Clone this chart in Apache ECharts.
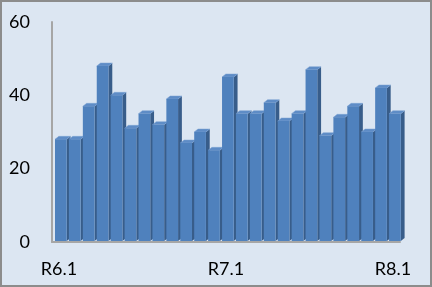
<!DOCTYPE html>
<html><head><meta charset="utf-8">
<script src="https://cdn.jsdelivr.net/npm/echarts@6/dist/echarts.min.js"></script>
<style>html,body{margin:0;padding:0;background:#dce6f2;}
#c{width:432px;height:287px;box-sizing:border-box;border:2px solid #8c8c8c;}</style>
</head><body><div id="c"></div>
<script>
const categories = ["R6.1","R6.2","R6.3","R6.4","R6.5","R6.6","R6.7","R6.8","R6.9","R6.10","R6.11","R6.12",
  "R7.1","R7.2","R7.3","R7.4","R7.5","R7.6","R7.7","R7.8","R7.9","R7.10","R7.11","R7.12","R8.1"];
const values = [28,28,37,48,40,31,35,32,39,27,30,25,45,35,35,38,33,35,47,29,34,37,30,42,35];
const yTicks = [0,20,40,60];

const chart = echarts.init(document.getElementById('c'));
const data = values.map((v,i)=>[i,v]);
chart.setOption({
  backgroundColor:'#dce6f2',
  animation:false,
  grid:{left:50,right:30,top:20,bottom:43},
  xAxis:{type:'category',data:categories,boundaryGap:true,
    axisTick:{show:false},
    axisLine:{show:true,lineStyle:{color:'#a6a6a6',width:2}},
    axisLabel:{interval:11,margin:18,fontFamily:'Lato',fontSize:18,color:'#000'}},
  yAxis:{type:'value',min:yTicks[0],max:yTicks[yTicks.length-1],interval:20,
    splitLine:{show:false},axisTick:{show:false},
    axisLine:{show:true,lineStyle:{color:'#a6a6a6',width:2}},
    axisLabel:{margin:22,fontFamily:'Lato',fontSize:18,color:'#000'}},
  series:[{type:'custom',data:data,
    renderItem:function(params,api){
      const i=api.value(0), v=api.value(1);
      const band=api.size([1,0])[0];
      const c=api.coord([i,v]), c0=api.coord([i,0]);
      const x0=c[0]-band/2+3, w=band-2.2, dx=3.8, dy=3;
      const yt=c[1], yb=c0[1]-1;
      return {type:'group',children:[
        {type:'polygon',shape:{points:[[x0+w,yt],[x0+w+dx,yt-dy],[x0+w+dx,yb-dy],[x0+w,yb]]},
          style:{fill:'#385d8a'}},
        {type:'polygon',shape:{points:[[x0,yt],[x0+dx,yt-dy],[x0+w+dx,yt-dy],[x0+w,yt]]},
          style:{fill:'#5e8cc6',stroke:'#7da2d3',lineWidth:0.5}},
        {type:'rect',shape:{x:x0,y:yt,width:w,height:yb-yt},
          style:{fill:'#4f81bd'}}
      ]};
    }}]
});
</script></body></html>
